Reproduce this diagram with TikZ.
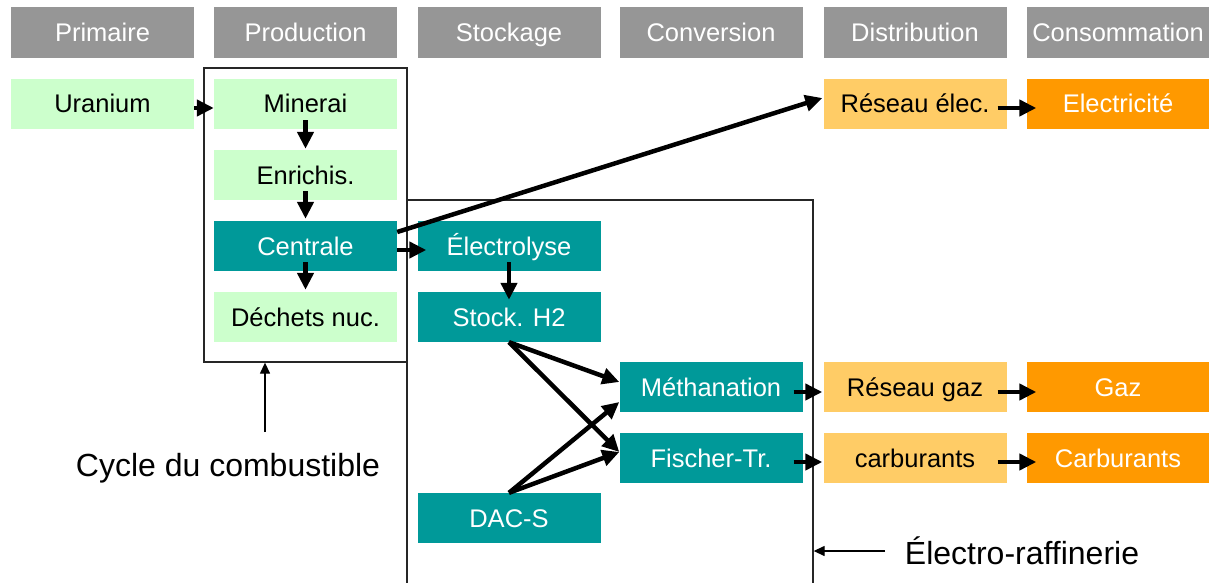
\documentclass[tikz,border=0pt]{standalone}
\usepackage{fontspec}
\setmainfont{Liberation Sans}
\usetikzlibrary{arrows.meta}
\definecolor{hdrgray}{HTML}{969696}
\definecolor{lgreen}{HTML}{CCFFCC}
\definecolor{tealbox}{HTML}{009999}
\definecolor{lorange}{HTML}{FFCC66}
\definecolor{dorange}{HTML}{FF9900}
\begin{document}
\begin{tikzpicture}[x=1pt,y=-1pt,
  box/.style={minimum width=183pt, minimum height=50pt, inner sep=0pt, text height=18pt, text depth=0pt, font=\fontsize{25.5}{28}\selectfont},
  hdrbox/.style={box, fill=hdrgray, text=white, minimum height=51pt},
  gbox/.style={box, fill=lgreen, text=black},
  tbox/.style={box, fill=tealbox, text=white},
  lobox/.style={box, fill=lorange, text=black},
  dobox/.style={box, fill=dorange, text=white},
  framebox/.style={draw=black!85, line width=1.3pt, inner sep=0pt},
  bigarrow/.style={-{Triangle[length=17pt,width=16pt]}, line width=4.5pt},
  thinarrow/.style={-{Triangle[length=11pt,width=10pt]}, line width=1.3pt},
  label/.style={font=\fontsize{32}{36}\selectfont, inner sep=0pt}
]
\clip (0,0) rectangle (1209,583);
\fill[white] (0,0) rectangle (1209,583);

% frames
\node[framebox, minimum width=203pt, minimum height=294pt] (cycbox) at (305.5,215) {};
\node[framebox, minimum width=406pt, minimum height=420pt] (elbox) at (610,410) {};

% headers
\node[hdrbox] (h1) at (102.5,33) {Primaire};
\node[hdrbox] (h2) at (305.5,33) {Production};
\node[hdrbox] (h3) at (509,33) {Stockage};
\node[hdrbox] (h4) at (711,33) {Conversion};
\node[hdrbox] (h5) at (915,33) {Distribution};
\node[hdrbox] (h6) at (1118,33) {Consommation};

% column 1-2
\node[gbox] (ura) at (102.5,104) {Uranium};
\node[gbox] (min) at (305.5,104) {Minerai};
\node[gbox] (enr) at (305.5,175) {Enrichis.};
\node[tbox] (cen) at (305.5,246) {Centrale};
\node[gbox] (dec) at (305.5,317) {Déchets nuc.};

% column 3
\node[tbox] (ely) at (509,246) {Électrolyse};
\node[tbox] (sto) at (509,317) {Stock. H2};
\node[tbox] (dac) at (509,518) {DAC-S};

% column 4
\node[tbox] (met) at (711,387) {Méthanation};
\node[tbox] (fis) at (711,458) {Fischer-Tr.};

% columns 5-6
\node[lobox] (rel) at (915,104) {Réseau élec.};
\node[dobox] (ele) at (1118,104) {Electricité};
\node[lobox] (rga) at (915,387) {Réseau gaz};
\node[dobox] (gaz) at (1118,387) {Gaz};
\node[lobox] (car) at (915,458) {carburants};
\node[dobox] (Car) at (1118,458) {Carburants};

% labels
\node[label] (cyclab) at (228,468) {Cycle du combustible};
\node[label] (ellab) at (1022,551) {Électro-raffinerie};

% thick arrows
\draw[bigarrow] ([yshift=-4pt]ura.east) -- ([yshift=-4pt]min.west);
\draw[bigarrow] ([yshift=9pt]min.south) -- ([yshift=1pt]enr.north);
\draw[bigarrow] ([yshift=9pt]enr.south) -- ([yshift=2pt]cen.north);
\draw[bigarrow] ([yshift=9pt]cen.south) -- ([yshift=2pt]dec.north);
\draw[bigarrow] ([yshift=-4pt]cen.east) -- ([xshift=9pt,yshift=-4pt]ely.west);
\draw[bigarrow] ([yshift=14pt]cen.east) -- ([xshift=-1pt,yshift=6pt]rel.west);
\draw[bigarrow] ([yshift=9pt]ely.south) -- ([yshift=-8pt]sto.north);
\draw[bigarrow] (sto.south) -- ([yshift=5pt]met.west);
\draw[bigarrow] (sto.south) -- ([yshift=6pt]fis.west);
\draw[bigarrow] (dac.north) -- ([yshift=-15pt]met.west);
\draw[bigarrow] (dac.north) -- ([yshift=6pt]fis.west);
\draw[bigarrow] ([xshift=-9pt,yshift=-5pt]met.east) -- ([xshift=-1pt,yshift=-5pt]rga.west);
\draw[bigarrow] ([xshift=-9pt,yshift=-4pt]fis.east) -- ([xshift=-1pt,yshift=-4pt]car.west);
\draw[bigarrow] ([xshift=-9pt,yshift=-4pt]rel.east) -- ([xshift=10pt,yshift=-4pt]ele.west);
\draw[bigarrow] ([xshift=-9pt,yshift=-5pt]rga.east) -- ([xshift=10pt,yshift=-5pt]gaz.west);
\draw[bigarrow] ([xshift=-9pt,yshift=-4pt]car.east) -- ([xshift=10pt,yshift=-4pt]Car.west);

% thin arrows
\coordinate (c1) at (265,432);
\draw[thinarrow] (c1) -- (c1 |- cycbox.south);
\coordinate (c2) at (885,551);
\draw[thinarrow] (c2) -- (c2 -| elbox.east);
\end{tikzpicture}
\end{document}
